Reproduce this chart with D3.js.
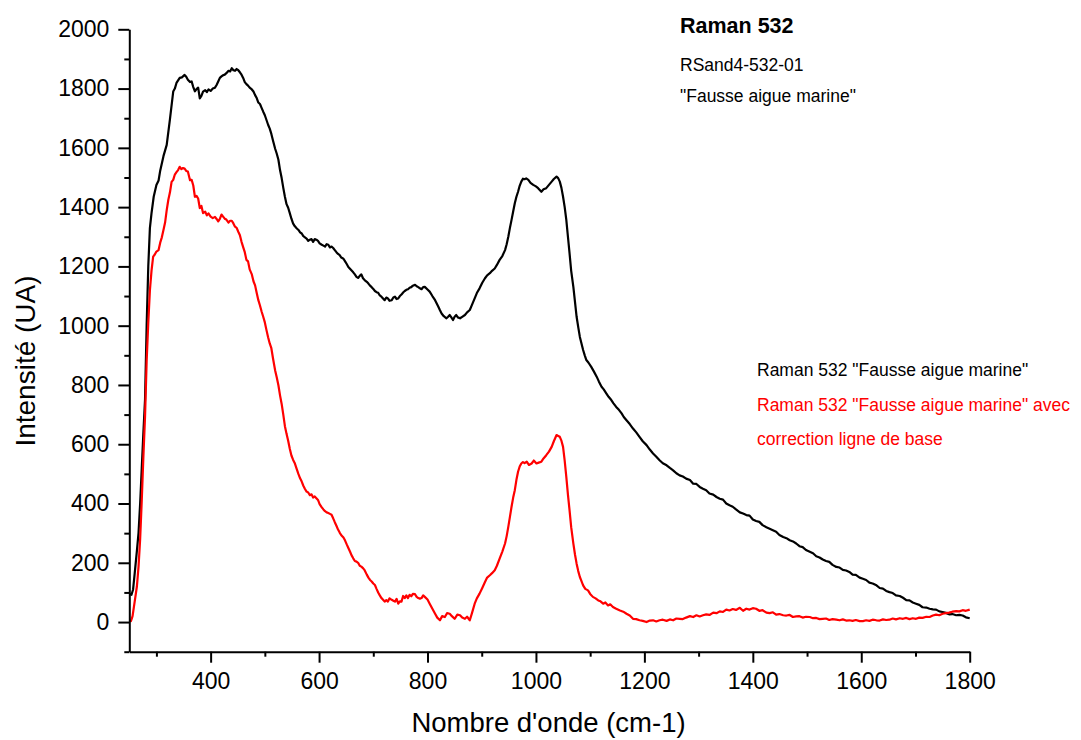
<!DOCTYPE html>
<html>
<head>
<meta charset="utf-8">
<script src="https://cdn.jsdelivr.net/npm/d3@7"></script>
<style>
    body { margin: 0; background: #fff; }
    svg { display: block; font-family: "Liberation Sans", Arial, sans-serif; }
</style>
</head>
<body>
<div id="chart"></div>
<script>
// spectre brut [nombre d'onde, intensité]
const spectreBrut = [
    [250,95],[254,92],[257,110],[260,165],[264,240],[267,300],[270,400],[273,520],[276,640],[279,750],
    [282,1000],[285,1200],[288,1330],[291,1380],[295,1435],[300,1475],[304,1490],[307,1523],[313,1572],[319,1610],
    [325,1697],[331,1790],[334,1800],[337,1819],[343,1836],[347,1838],[352,1846],[355,1840],[358,1830],[362,1822],
    [365,1824],[368,1805],[371,1791],[374,1798],[377,1803],[380,1767],[383,1775],[386,1790],[390,1795],[393,1788],
    [396,1797],[400,1792],[404,1800],[408,1803],[411,1812],[414,1824],[417,1836],[420,1841],[423,1845],[426,1847],
    [429,1852],[433,1860],[436,1858],[439,1869],[442,1862],[445,1860],[448,1866],[451,1862],[454,1855],[457,1847],
    [460,1836],[463,1822],[466,1815],[469,1810],[472,1803],[476,1797],[479,1790],[482,1778],[485,1768],[488,1753],
    [491,1748],[494,1735],[497,1722],[500,1710],[503,1694],[506,1678],[509,1665],[512,1647],[515,1625],[519,1597],
    [522,1580],[525,1560],[528,1525],[531,1498],[534,1465],[537,1435],[540,1410],[543,1398],[546,1380],[549,1361],
    [552,1345],[555,1336],[559,1328],[562,1323],[565,1315],[568,1311],[571,1302],[574,1298],[577,1294],[580,1286],
    [583,1290],[586,1292],[589,1283],[592,1292],[595,1290],[598,1286],[601,1278],[605,1273],[608,1270],[611,1267],
    [614,1275],[617,1273],[620,1264],[623,1267],[626,1262],[629,1255],[632,1248],[635,1242],[638,1238],[641,1230],
    [645,1226],[648,1217],[651,1208],[654,1198],[657,1192],[660,1186],[663,1180],[666,1173],[669,1165],[672,1161],
    [675,1168],[678,1173],[681,1160],[684,1154],[688,1148],[691,1142],[694,1135],[697,1130],[700,1124],[703,1117],
    [706,1113],[709,1111],[712,1102],[715,1098],[718,1092],[721,1086],[724,1095],[727,1092],[730,1084],[734,1086],
    [737,1095],[740,1098],[743,1090],[746,1092],[749,1100],[752,1105],[755,1112],[758,1117],[761,1121],[764,1123],
    [767,1128],[770,1130],[773,1135],[777,1138],[780,1133],[783,1130],[786,1126],[789,1123],[792,1130],[795,1131],
    [800,1122],[804,1115],[809,1100],[814,1086],[817,1075],[820,1064],[823,1052],[826,1041],[830,1032],[835,1025],
    [838,1030],[841,1036],[844,1028],[847,1019],[850,1030],[853,1036],[856,1028],[860,1025],[864,1030],[869,1036],
    [873,1045],[878,1053],[882,1070],[887,1092],[891,1110],[896,1126],[901,1145],[906,1160],[910,1170],[915,1177],
    [919,1185],[924,1193],[928,1205],[933,1222],[938,1235],[943,1255],[946,1275],[949,1300],[952,1330],[955,1357],
    [958,1385],[961,1413],[964,1435],[967,1452],[970,1472],[973,1486],[976,1496],[979,1494],[982,1497],[986,1492],
    [990,1482],[995,1475],[1000,1470],[1004,1464],[1007,1458],[1010,1452],[1014,1460],[1019,1464],[1024,1475],[1029,1486],
    [1033,1495],[1038,1503],[1041,1498],[1044,1486],[1047,1465],[1050,1435],[1053,1400],[1056,1357],[1059,1300],[1062,1244],
    [1065,1185],[1069,1131],[1072,1080],[1075,1030],[1078,995],[1081,962],[1084,940],[1087,918],[1090,900],[1093,884],
    [1097,875],[1102,861],[1107,845],[1112,828],[1116,812],[1121,794],[1125,785],[1130,771],[1134,760],[1139,749],
    [1143,738],[1148,726],[1153,716],[1158,704],[1162,692],[1167,681],[1173,668],[1179,653],[1185,640],[1191,625],
    [1197,610],[1204,597],[1210,582],[1216,569],[1222,558],[1228,546],[1234,536],[1241,529],[1247,520],[1253,512],
    [1259,502],[1265,495],[1271,491],[1277,484],[1284,479],[1290,467],[1296,466],[1302,456],[1308,450],[1314,445],
    [1320,434],[1327,430],[1333,422],[1339,416],[1345,413],[1351,400],[1357,394],[1363,389],[1369,380],[1376,370],
    [1382,366],[1388,361],[1394,359],[1400,346],[1406,341],[1412,338],[1418,327],[1425,320],[1431,315],[1437,310],
    [1443,305],[1449,294],[1456,287],[1462,283],[1468,276],[1474,272],[1480,265],[1486,256],[1492,253],[1498,243],
    [1505,237],[1511,232],[1517,222],[1523,218],[1529,211],[1535,206],[1541,203],[1547,193],[1554,186],[1560,184],
    [1566,176],[1572,174],[1578,169],[1584,160],[1590,159],[1597,150],[1603,146],[1609,142],[1615,133],[1621,130],
    [1628,124],[1634,115],[1640,113],[1646,105],[1652,101],[1658,98],[1664,90],[1671,88],[1677,82],[1683,74],
    [1689,73],[1695,66],[1701,62],[1707,58],[1713,50],[1720,49],[1726,45],[1732,43],[1738,42],[1744,36],
    [1750,34],[1756,31],[1762,26],[1768,27],[1775,23],[1781,24],[1787,22],[1793,16],[1800,13]
];

// spectre avec correction de ligne de base
const spectreCorrige = [
    [250,5],[253,3],[256,20],[260,70],[264,120],[267,186],[270,280],[273,411],[276,560],[279,692],
    [282,880],[285,1010],[288,1119],[291,1186],[294,1233],[297,1240],[300,1250],[304,1255],[307,1280],[310,1298],
    [313,1323],[316,1348],[319,1390],[322,1425],[325,1450],[328,1485],[331,1492],[334,1510],[337,1518],[340,1525],
    [343,1536],[346,1528],[349,1532],[352,1530],[355,1522],[358,1520],[362,1491],[365,1492],[368,1473],[371,1435],
    [374,1438],[377,1429],[380,1397],[383,1404],[386,1380],[390,1385],[393,1372],[396,1379],[400,1368],[404,1363],
    [408,1367],[411,1360],[414,1352],[417,1360],[420,1375],[423,1368],[426,1361],[429,1358],[433,1348],[436,1354],
    [439,1354],[442,1345],[445,1334],[448,1330],[451,1317],[454,1305],[457,1283],[460,1265],[463,1248],[466,1222],
    [469,1217],[472,1190],[476,1173],[479,1150],[482,1136],[485,1110],[488,1086],[491,1068],[494,1048],[497,1030],
    [500,1011],[503,985],[506,961],[509,940],[512,924],[515,890],[519,849],[522,825],[525,799],[528,765],
    [531,736],[534,700],[537,661],[540,635],[543,612],[546,585],[549,562],[552,548],[555,537],[559,515],
    [562,499],[565,485],[568,474],[571,460],[574,449],[577,440],[580,437],[583,428],[586,431],[589,420],
    [592,424],[595,418],[598,412],[601,398],[605,387],[608,380],[611,374],[614,370],[617,368],[620,365],
    [623,362],[626,350],[629,337],[632,325],[635,312],[638,302],[641,293],[645,285],[648,275],[651,262],
    [654,250],[657,238],[660,225],[663,215],[666,206],[669,204],[672,200],[675,190],[678,187],[681,182],
    [684,175],[688,160],[691,150],[694,142],[697,137],[700,130],[703,125],[706,112],[709,100],[712,90],
    [715,81],[718,75],[721,69],[724,74],[727,69],[730,80],[734,75],[737,72],[740,69],[743,78],
    [746,62],[749,70],[752,69],[755,88],[758,81],[761,90],[764,81],[767,92],[770,87],[773,95],
    [777,94],[780,85],[783,81],[786,79],[789,81],[792,90],[795,85],[800,76],[804,62],[809,45],
    [814,28],[818,15],[823,6],[827,20],[832,17],[836,30],[841,28],[845,20],[850,11],[855,25],
    [860,23],[864,15],[869,11],[873,18],[878,6],[882,30],[887,62],[891,80],[896,96],[901,115],
    [906,135],[910,150],[915,158],[919,165],[924,175],[928,190],[933,214],[938,238],[943,265],[946,290],
    [949,321],[952,355],[955,389],[958,420],[961,445],[964,480],[967,507],[970,525],[973,535],[976,540],
    [979,536],[983,541],[987,530],[992,535],[996,545],[1001,535],[1005,538],[1010,541],[1014,552],[1019,563],
    [1024,575],[1029,591],[1033,610],[1038,631],[1041,628],[1044,625],[1047,612],[1050,591],[1053,545],[1056,490],
    [1059,430],[1062,377],[1065,320],[1069,265],[1072,228],[1075,197],[1078,172],[1081,152],[1084,138],[1087,124],
    [1091,112],[1096,107],[1100,95],[1105,85],[1110,80],[1115,73],[1119,70],[1124,62],[1128,66],[1133,56],
    [1137,60],[1142,51],[1148,45],[1155,39],[1161,35],[1167,28],[1173,22],[1179,11],[1185,10],[1191,6],
    [1197,4],[1204,0],[1210,5],[1216,6],[1222,2],[1228,6],[1234,8],[1241,4],[1247,9],[1253,6],
    [1259,12],[1265,11],[1271,10],[1277,15],[1284,20],[1290,17],[1296,23],[1302,19],[1308,23],[1314,26],
    [1320,24],[1327,32],[1333,30],[1339,36],[1345,34],[1351,42],[1357,39],[1363,44],[1369,41],[1376,48],
    [1382,38],[1388,45],[1394,42],[1400,47],[1406,45],[1412,38],[1418,40],[1425,32],[1431,30],[1437,33],
    [1443,25],[1449,27],[1456,23],[1462,22],[1468,24],[1474,17],[1480,19],[1486,20],[1492,15],[1498,18],
    [1505,17],[1511,13],[1517,14],[1523,10],[1529,11],[1535,12],[1541,7],[1547,10],[1554,8],[1560,6],
    [1566,9],[1572,5],[1578,6],[1584,4],[1590,7],[1597,3],[1603,3],[1609,6],[1615,4],[1621,8],
    [1628,6],[1634,5],[1640,9],[1646,7],[1652,8],[1658,12],[1664,9],[1671,13],[1677,11],[1683,14],
    [1689,10],[1695,13],[1701,11],[1707,15],[1713,14],[1720,18],[1726,17],[1732,22],[1738,25],[1744,23],
    [1750,28],[1756,30],[1762,32],[1768,35],[1775,37],[1781,36],[1787,40],[1793,38],[1800,42]
];

const xTicks = [400, 600, 800, 1000, 1200, 1400, 1600, 1800];
const xMinorTicks = [300, 500, 700, 900, 1100, 1300, 1500, 1700];
const yTicks = [0, 200, 400, 600, 800, 1000, 1200, 1400, 1600, 1800, 2000];
const yMinorTicks = [-100, 100, 300, 500, 700, 900, 1100, 1300, 1500, 1700, 1900];

const titres = ["Raman 532", "RSand4-532-01", "\"Fausse aigue marine\""];
const legende = [
    { text: "Raman 532 \"Fausse aigue marine\"", color: "#000000" },
    { text: "Raman 532 \"Fausse aigue marine\" avec", color: "#ff0000" },
    { text: "correction ligne de base", color: "#ff0000" }
];

const width = 1081;
const height = 740;
const marginTop = 29.3;
const marginRight = 1081 - 969.7;
const marginBottom = 740 - 651.7;
const marginLeft = 129.3;

const x = d3.scaleLinear()
    .domain([250, 1800])
    .range([marginLeft, width - marginRight]);

const y = d3.scaleLinear()
    .domain([-100, 2000])
    .range([height - marginBottom, marginTop]);

const svg = d3.select("#chart")
    .append("svg")
    .attr("width", width)
    .attr("height", height)
    .attr("viewBox", `0 0 ${width} ${height}`);

// courbes
const line = d3.line()
    .x((d) => x(d[0]))
    .y((d) => y(d[1]));

svg.append("path")
    .datum(spectreBrut)
    .attr("fill", "none")
    .attr("stroke", "#000")
    .attr("stroke-width", 2.2)
    .attr("stroke-linejoin", "round")
    .attr("d", line);

svg.append("path")
    .datum(spectreCorrige)
    .attr("fill", "none")
    .attr("stroke", "#ff0000")
    .attr("stroke-width", 2.2)
    .attr("stroke-linejoin", "round")
    .attr("d", line);

// axes
function styleAxis(g) {
    g.selectAll("path, line").attr("stroke", "#000").attr("stroke-width", 2);
    g.selectAll("text").attr("fill", "#000").attr("font-size", 23);
}

svg.append("g")
    .attr("transform", `translate(0,${height - marginBottom})`)
    .call(d3.axisBottom(x).tickValues(xMinorTicks).tickSize(5).tickFormat(""))
    .call((g) => g.select(".domain").remove())
    .call(styleAxis);

svg.append("g")
    .attr("transform", `translate(0,${height - marginBottom})`)
    .call(d3.axisBottom(x).tickValues(xTicks).tickSize(11).tickSizeOuter(0).tickPadding(10).tickFormat(d3.format("d")))
    .call(styleAxis)
    .attr("font-family", null);

svg.append("g")
    .attr("transform", `translate(${marginLeft},0)`)
    .call(d3.axisLeft(y).tickValues(yMinorTicks).tickSize(5).tickFormat(""))
    .call((g) => g.select(".domain").remove())
    .call(styleAxis);

svg.append("g")
    .attr("transform", `translate(${marginLeft},0)`)
    .call(d3.axisLeft(y).tickValues(yTicks).tickSize(11).tickSizeOuter(0).tickPadding(9).tickFormat(d3.format("d")))
    .call(styleAxis)
    .attr("font-family", null);

// titres des axes
svg.append("text")
    .attr("x", (x.range()[0] + x.range()[1]) / 2 - 1)
    .attr("y", 732)
    .attr("text-anchor", "middle")
    .attr("font-size", 27.5)
    .text("Nombre d'onde (cm-1)");

svg.append("text")
    .attr("transform", "translate(35,361) rotate(-90)")
    .attr("text-anchor", "middle")
    .attr("font-size", 28)
    .text("Intensité (UA)");

// bloc titre
svg.append("g")
    .selectAll("text")
    .data(titres)
    .enter()
    .append("text")
    .attr("x", 680)
    .attr("y", (d, i) => [33, 71, 102][i])
    .attr("font-size", (d, i) => (i === 0 ? 21.5 : 17.5))
    .attr("font-weight", (d, i) => (i === 0 ? "bold" : "normal"))
    .text((d) => d);

// légende
svg.append("g")
    .selectAll("text")
    .data(legende)
    .enter()
    .append("text")
    .attr("x", 757)
    .attr("y", (d, i) => 376 + i * 34.5)
    .attr("font-size", 17.5)
    .attr("fill", (d) => d.color)
    .text((d) => d.text);
</script>
</body>
</html>
